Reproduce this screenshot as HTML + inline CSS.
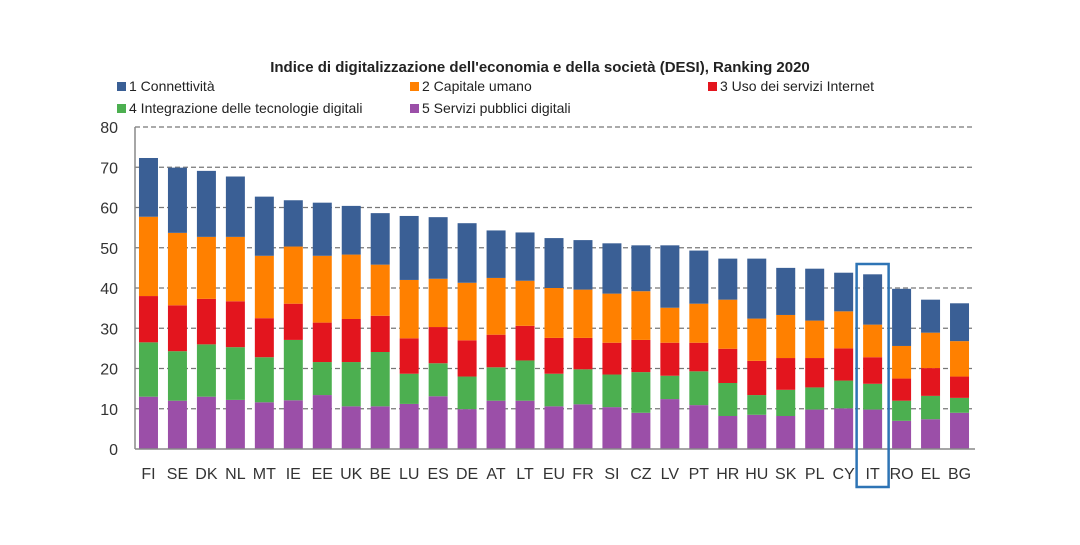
<!DOCTYPE html>
<html><head><meta charset="utf-8"><style>
body{margin:0;background:#fff;width:1080px;height:540px;overflow:hidden;font-family:"Liberation Sans",sans-serif}
</style></head><body>
<svg id="c" width="1080" height="540" style="font-family:'Liberation Sans',sans-serif"></svg>
<script>
const countries=["FI","SE","DK","NL","MT","IE","EE","UK","BE","LU","ES","DE","AT","LT","EU","FR","SI","CZ","LV","PT","HR","HU","SK","PL","CY","IT","RO","EL","BG"];
// cumulative tops per country: purple, green, red, orange, blue
const cumServizi=[13,12,13,12.2,11.6,12.1,13.4,10.6,10.6,11.2,13.1,9.9,12,12,10.6,11.1,10.4,9,12.4,10.9,8.2,8.5,8.2,9.8,10.1,9.8,7,7.4,9];
const cumIntegrazione=[26.5,24.3,26,25.3,22.8,27.1,21.6,21.6,24.1,18.7,21.3,18,20.3,22,18.7,19.8,18.5,19.1,18.2,19.3,16.4,13.4,14.7,15.3,17,16.2,12,13.2,12.7];
const cumUso=[38,35.7,37.3,36.7,32.5,36.1,31.4,32.3,33.1,27.5,30.3,27,28.4,30.6,27.6,27.6,26.4,27.1,26.4,26.4,24.9,21.9,22.6,22.6,25,22.8,17.5,20.1,18];
const cumCapitale=[57.7,53.7,52.7,52.7,48,50.3,48,48.3,45.8,42,42.3,41.3,42.5,41.8,40,39.6,38.6,39.2,35.1,36.1,37.1,32.4,33.3,31.9,34.2,30.9,25.6,28.9,26.8];
const cumConnettivita=[72.3,69.9,69.1,67.7,62.7,61.8,61.2,60.4,58.6,57.9,57.6,56.1,54.3,53.8,52.4,51.9,51.1,50.6,50.6,49.3,47.3,47.3,45,44.8,43.8,43.4,39.8,37.1,36.2];
const yTicks=[0,10,20,30,40,50,60,70,80];
const ns="http://www.w3.org/2000/svg",svg=document.getElementById('c');
const x0=135,x1=975,yBase=449,yTop=127,band=(x1-x0)/countries.length,bw=19;
const y=v=>yBase-(v/80)*(yBase-yTop);
const xc=i=>x0+band*(i+0.5)-1;
function mk(t,a){const e=document.createElementNS(ns,t);for(const k in a)e.setAttribute(k,a[k]);svg.appendChild(e);return e;}
let t=mk('text',{x:540,y:72,'text-anchor':'middle','font-size':15,'font-weight':'bold',fill:'#222'});t.textContent="Indice di digitalizzazione dell'economia e della società (DESI), Ranking 2020";


yTicks.forEach(v=>{
 if(v>0){const l=mk('line',{x1:x0,x2:x1,y1:y(v),y2:y(v),stroke:'#777','stroke-dasharray':'5,3','stroke-width':1.2});
 
 }
 const tx=mk('text',{x:118,y:y(v)+6,'text-anchor':'end','font-size':16,fill:'#333'});tx.textContent=v;
 
 
});
const series=[[cumServizi,'#9B4FA8','servizi'],[cumIntegrazione,'#4CAF50','integrazione'],[cumUso,'#E3151E','uso'],[cumCapitale,'#FF8000','capitale'],[cumConnettivita,'#3A5F95','connettivita']];
countries.forEach((c,i)=>{
 let prev=0;
 series.forEach(([arr,col,nm])=>{
  const r=mk('rect',{x:xc(i)-bw/2,y:y(arr[i]),width:bw,height:y(prev)-y(arr[i]),fill:col});
  
  
  prev=arr[i];
 });
 const tx=mk('text',{x:xc(i),y:479,'text-anchor':'middle','font-size':16,fill:'#333'});tx.textContent=c;
 
 
});
let ax=mk('line',{x1:x0,x2:x1,y1:yBase,y2:yBase,stroke:'#888','stroke-width':1.5});


let ay=mk('line',{x1:x0,x2:x0,y1:yTop,y2:yBase,stroke:'#888','stroke-width':1.5});


const it=countries.indexOf('IT');
let hb=mk('rect',{x:xc(it)-16,y:264,width:32,height:223,fill:'none',stroke:'#2E74B5','stroke-width':2.5});


const legend=[["1 Connettività",'#3A5F95',117,91],["2 Capitale umano",'#FF8000',410,91],["3 Uso dei servizi Internet",'#E3151E',708,91],["4 Integrazione delle tecnologie digitali",'#4CAF50',117,113],["5 Servizi pubblici digitali",'#9B4FA8',410,113]];
legend.forEach(([lab,col,lx,ly],k)=>{
 const r=mk('rect',{x:lx,y:ly-9,width:9,height:9,fill:col});
 
 
 const tx=mk('text',{x:lx+12,y:ly,'font-size':14,fill:'#222'});tx.textContent=lab;
 
 
});
</script>
</body></html>
